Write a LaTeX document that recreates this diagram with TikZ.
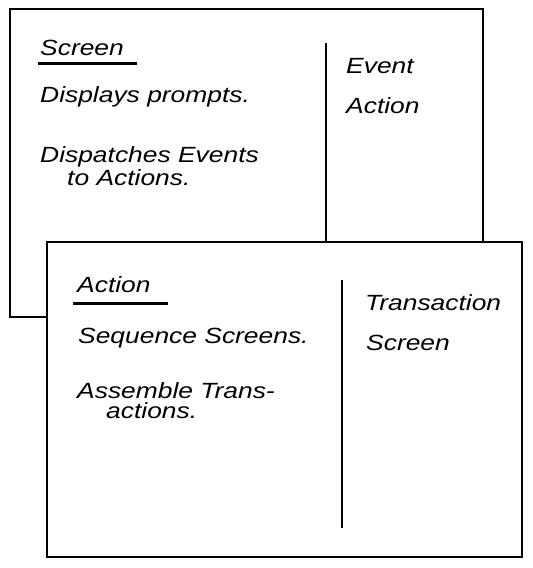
\documentclass[tikz,border=0pt]{standalone}
\usepackage{fontspec}
\setmainfont{Liberation Sans}[FakeStretch=1.2]
\begin{document}
\begin{tikzpicture}[x=1pt,y=-1pt,
  card/.style={draw=black, fill=white, line width=2.4pt, inner sep=0pt, outer sep=0pt, anchor=north west},
  txt/.style={anchor=base west, inner sep=0pt, font=\fontsize{22}{26}\selectfont\itshape},
  txttwo/.style={anchor=north west, inner sep=0pt, align=left},
  divider/.style={line width=2pt},
  uline/.style={line width=3pt}]
\useasboundingbox (0,0) rectangle (533,568);
% back card
\node[card, minimum width=473pt, minimum height=308pt] (backcard) at (10,9) {};
\coordinate (bd1) at (326,43);
\coordinate (bd2) at (326,242);
\draw[divider] (bd1) -- (bd2);
\node[txt] (t1) at (40,55) {Screen};
\coordinate (u1a) at (38,63);
\coordinate (u1b) at (137,63);
\draw[uline] (u1a) -- (u1b);
\node[txt] (t2) at (40,102) {Displays prompts.};
\node[txttwo, font=\fontsize{22}{23}\selectfont\itshape] (t3) at (40,146)
  {Dispatches Events\\\hspace*{27pt}to Actions.};
\node[txt] (t5) at (346,73) {Event};
\node[txt] (t6) at (346,113) {Action};
% front card
\node[card, minimum width=475pt, minimum height=315pt] (frontcard) at (47,242) {};
\coordinate (fd1) at (342,280);
\coordinate (fd2) at (342,528);
\draw[divider] (fd1) -- (fd2);
\node[txt] (f1) at (77,292) {Action};
\coordinate (u2a) at (73,303);
\coordinate (u2b) at (168,303);
\draw[uline] (u2a) -- (u2b);
\node[txt] (f2) at (78,343) {Sequence Screens.};
\node[txttwo, font=\fontsize{22}{20}\selectfont\itshape] (f3) at (77,382)
  {Assemble Trans-\\\hspace*{29pt}actions.};
\node[txt] (f5) at (365,310) {Transaction};
\node[txt] (f6) at (366,350) {Screen};
\end{tikzpicture}
\end{document}
